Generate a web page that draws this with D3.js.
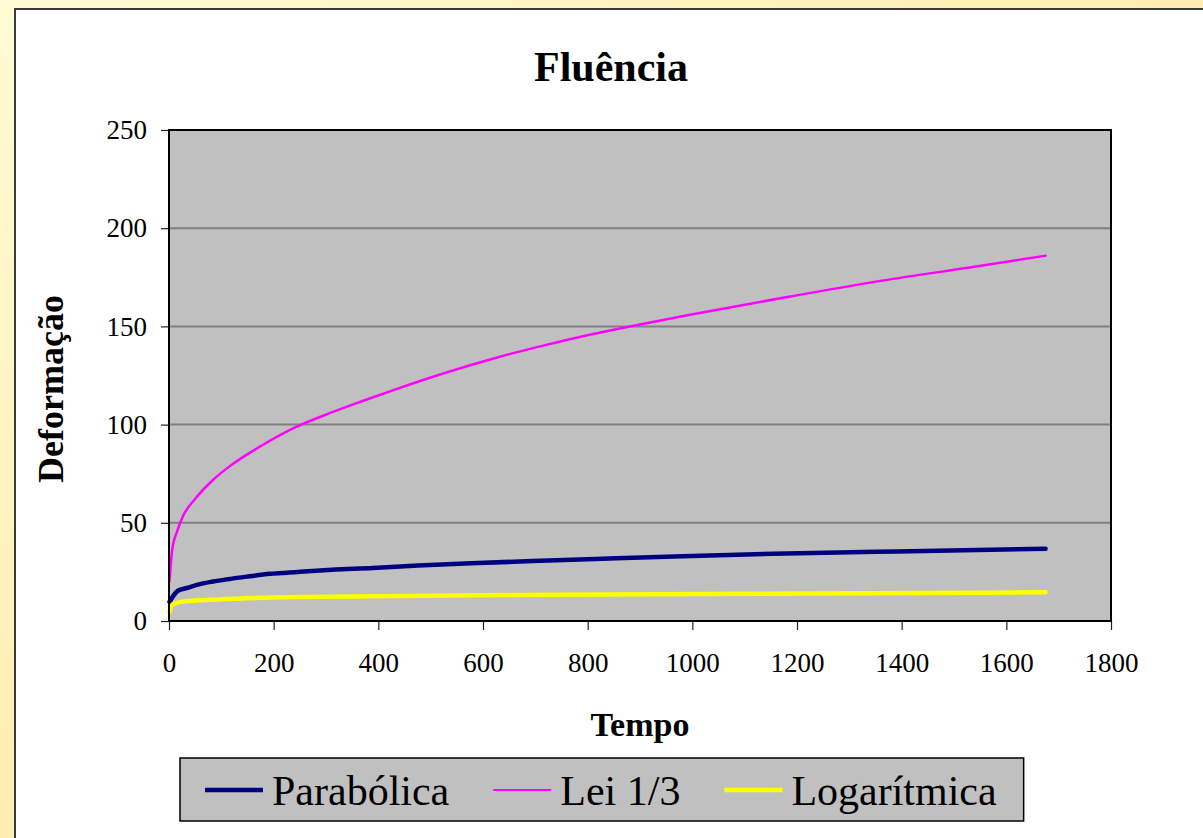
<!DOCTYPE html>
<html>
<head>
<meta charset="utf-8">
<script src="https://cdn.jsdelivr.net/npm/d3@7"></script>
<style>
  html, body { margin: 0; padding: 0; overflow: hidden; }
  svg { display: block; }
</style>
</head>
<body>
<div id="chart"></div>
<script>
'use strict';

// values
var timeTicks = [0, 200, 400, 600, 800, 1000, 1200, 1400, 1600, 1800];
var defTicks = [0, 50, 100, 150, 200, 250];
var seriesNames = ['Parabólica', 'Lei 1/3', 'Logarítmica'];

var tParabolica = [1, 17, 34, 59, 84, 113, 149, 193, 246, 311, 389, 476, 577, 695, 829, 982, 1154, 1351, 1571, 1675];
var vParabolica = [9.8, 15.4, 16.8, 18.8, 20.1, 21.3, 22.6, 24, 25, 26.1, 27, 28.3, 29.4, 30.5, 31.7, 33, 34.2, 35.2, 36.3, 36.8];

var tLei = [1, 6, 16, 26, 51, 84, 115, 179, 243, 307, 370, 437, 530, 622, 715, 808, 900, 993, 1178, 1363, 1548, 1675];
var vLei = [20, 36, 46, 53, 62.5, 71.8, 78.6, 89.6, 98.8, 105.8, 112, 118.3, 126.5, 133.8, 140.2, 146, 151, 155.8, 164.8, 173.3, 180.7, 186];

var tLog = [1, 3, 8, 20, 45, 95, 245, 589, 1433, 1675];
var vLog = [4.7, 7, 8.6, 9.6, 10.3, 11, 12.2, 13.1, 14.2, 14.6];

var W = 1203, H = 838;
var plot = { left: 169, right: 1111, top: 130, bottom: 621 };
var colors = ['#000080', '#ff00ff', '#ffff00'];
var widths = [4.5, 2.5, 4.5];
var serif = '"Liberation Serif", "Times New Roman", serif';

function zipSeries(ts, vs) {
  return ts.map(function (t, i) { return { t: t, v: vs[i] }; });
}
var series = [
  zipSeries(tParabolica, vParabolica),
  zipSeries(tLei, vLei),
  zipSeries(tLog, vLog)
];

var svg = d3.select('#chart').append('svg')
  .attr('width', W)
  .attr('height', H)
  .attr('font-family', serif);

// yellow page background
var grad = svg.append('defs').append('linearGradient')
  .attr('id', 'bg').attr('x1', 0).attr('y1', 0).attr('x2', 1).attr('y2', 1);
grad.append('stop').attr('offset', '0%').attr('stop-color', '#fffbd4');
grad.append('stop').attr('offset', '100%').attr('stop-color', '#ffe08e');
svg.append('rect').attr('width', W).attr('height', H).attr('fill', 'url(#bg)');

// white chart area
svg.append('rect')
  .attr('x', 15).attr('y', 9)
  .attr('width', W + 20).attr('height', H + 20)
  .attr('fill', '#ffffff')
  .attr('stroke', '#3a3a3a').attr('stroke-width', 2);

var x = d3.scaleLinear().domain([0, 1800]).range([plot.left, plot.right]);
var y = d3.scaleLinear().domain([0, 250]).range([plot.bottom, plot.top]);

// plot area
svg.append('rect')
  .attr('x', plot.left).attr('y', plot.top)
  .attr('width', plot.right - plot.left).attr('height', plot.bottom - plot.top)
  .attr('fill', '#c0c0c0');

svg.append('g').selectAll('line')
  .data(defTicks.filter(function (d) { return d > 0 && d < 250; }))
  .join('line')
  .attr('x1', plot.left).attr('x2', plot.right)
  .attr('y1', function (d) { return y(d); }).attr('y2', function (d) { return y(d); })
  .attr('stroke', '#808080').attr('stroke-width', 2);

// axes
var yAxis = svg.append('g')
  .attr('transform', 'translate(' + plot.left + ',0)')
  .call(d3.axisLeft(y).tickValues(defTicks).tickFormat(d3.format('d')).tickSize(8).tickPadding(14));
var xAxis = svg.append('g')
  .attr('transform', 'translate(0,' + plot.bottom + ')')
  .call(d3.axisBottom(x).tickValues(timeTicks).tickFormat(d3.format('d')).tickSize(9).tickPadding(23));

[xAxis, yAxis].forEach(function (g) {
  g.attr('font-family', serif).attr('font-size', 27);
  g.select('.domain').remove();
  g.selectAll('.tick line').attr('stroke', '#222').attr('stroke-width', 1.2);
  g.selectAll('.tick text').attr('fill', '#000');
});

// series
var line = d3.line()
  .x(function (d) { return x(d.t); })
  .y(function (d) { return y(d.v); })
  .curve(d3.curveMonotoneX);

svg.append('g').selectAll('path')
  .data(series)
  .join('path')
  .attr('d', line)
  .attr('fill', 'none')
  .attr('stroke', function (d, i) { return colors[i]; })
  .attr('stroke-width', function (d, i) { return widths[i]; })
  .attr('stroke-linecap', 'round')
  .attr('stroke-linejoin', 'round');

// plot border
svg.append('rect')
  .attr('x', plot.left).attr('y', plot.top)
  .attr('width', plot.right - plot.left).attr('height', plot.bottom - plot.top)
  .attr('fill', 'none')
  .attr('stroke', '#000').attr('stroke-width', 2);

// titles
svg.append('text')
  .attr('x', 611).attr('y', 81)
  .attr('text-anchor', 'middle')
  .attr('font-size', 42).attr('font-weight', 'bold')
  .text('Fluência');

svg.append('text')
  .attr('x', (plot.left + plot.right) / 2).attr('y', 736)
  .attr('text-anchor', 'middle')
  .attr('font-size', 34).attr('font-weight', 'bold')
  .text('Tempo');

svg.append('text')
  .attr('transform', 'translate(63,389) rotate(-90)')
  .attr('text-anchor', 'middle')
  .attr('font-size', 36).attr('font-weight', 'bold')
  .text('Deformação');

// legend
var legend = svg.append('g').attr('font-family', serif);
var legendBox = legend.append('rect')
  .attr('y', 758).attr('height', 63)
  .attr('fill', '#c0c0c0')
  .attr('stroke', '#000').attr('stroke-width', 1.5);

var cursor = 205;
seriesNames.forEach(function (name, i) {
  legend.append('line')
    .attr('x1', cursor).attr('x2', cursor + 58)
    .attr('y1', 790).attr('y2', 790)
    .attr('stroke', colors[i])
    .attr('stroke-width', i === 1 ? 2 : 4.5);
  var label = legend.append('text')
    .attr('x', cursor + 67).attr('y', 805)
    .attr('font-size', 42)
    .text(name);
  cursor += 67 + label.node().getComputedTextLength() + 44;
});
legendBox.attr('x', 180).attr('width', cursor - 44 + 27 - 180);
</script>
</body>
</html>
